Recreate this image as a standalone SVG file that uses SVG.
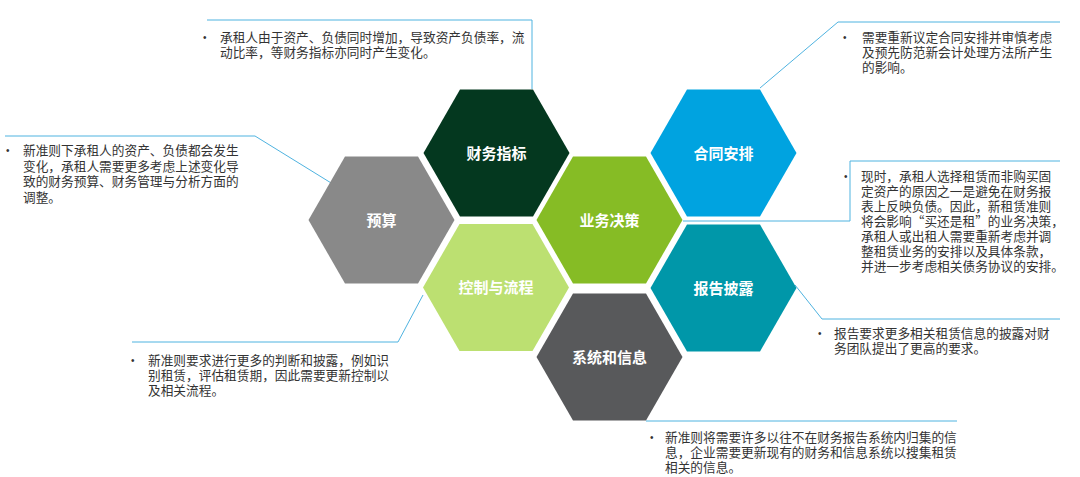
<svg xmlns="http://www.w3.org/2000/svg" width="1080" height="477" viewBox="0 0 1080 477">
<style>
.lbl{font-family:"Noto Sans CJK SC","Noto Sans",sans-serif;font-size:15px;font-weight:bold;fill:#ffffff;text-anchor:middle}
.t{font-family:"Noto Sans CJK SC","Noto Sans",sans-serif;font-size:12.7px;fill:#333333}
.b{font-family:"Liberation Sans",sans-serif;font-size:10px;fill:#333333}
.c{fill:none;stroke:#4FB3E0;stroke-width:1}
</style>
<defs>
<polygon id="hex" points="-73,0 -36.5,-63.5 36.5,-63.5 73,0 36.5,63.5 -36.5,63.5"/>
</defs>
<rect width="1080" height="477" fill="#ffffff"/>
<g id="connectors">
<polyline class="c" points="207,20 532,20 532,89"/>
<polyline class="c" points="760,88 838,22 1060,22"/>
<polyline class="c" points="5,136 255,136 336,186"/>
<polyline class="c" points="683,221 850,221 850,161 1060,161"/>
<polyline class="c" points="795,285 822,319 1060,319"/>
<polyline class="c" points="423,295 398,342 132,342"/>
<polyline class="c" points="646,421 957,421"/>
</g>
<g id="node-yusuan" transform="translate(381.5,220)">
<use href="#hex" fill="#898989"/>
<text class="lbl" y="5.5">预算</text>
</g>
<g id="node-caiwuzhibiao" transform="translate(496.5,153)">
<use href="#hex" fill="#04381F"/>
<text class="lbl" y="5.5">财务指标</text>
</g>
<g id="node-yewujuece" transform="translate(609.5,220)">
<use href="#hex" fill="#86BC25"/>
<text class="lbl" y="5.5">业务决策</text>
</g>
<g id="node-hetonganpai" transform="translate(723.5,153)">
<use href="#hex" fill="#00A3E0"/>
<text class="lbl" y="5.5">合同安排</text>
</g>
<g id="node-kongzhi" transform="translate(496,287.5)">
<use href="#hex" fill="#BCE071"/>
<text class="lbl" y="5.5">控制与流程</text>
</g>
<g id="node-baogao" transform="translate(723.5,288)">
<use href="#hex" fill="#0097A9"/>
<text class="lbl" y="5.5">报告披露</text>
</g>
<g id="node-xitong" transform="translate(609.5,357)">
<use href="#hex" fill="#58595B"/>
<text class="lbl" y="5.5">系统和信息</text>
</g>
<g id="note-top">
<text class="b" x="203" y="40.5">•</text>
<text class="t"><tspan x="220" y="41.5">承租人由于资产、负债同时增加，导致资产负债率，流</tspan><tspan x="220" y="56.5">动比率，等财务指标亦同时产生变化。</tspan></text>
</g>
<g id="note-topright">
<text class="b" x="843" y="40.5">•</text>
<text class="t"><tspan x="862" y="41.5">需要重新议定合同安排并审慎考虑</tspan><tspan x="862" y="56.5">及预先防范新会计处理方法所产生</tspan><tspan x="862" y="71.5">的影响。</tspan></text>
</g>
<g id="note-left">
<text class="b" x="6" y="154">•</text>
<text class="t"><tspan x="23" y="155">新准则下承租人的资产、负债都会发生</tspan><tspan x="23" y="170.5">变化，承租人需要更多考虑上述变化导</tspan><tspan x="23" y="186">致的财务预算、财务管理与分析方面的</tspan><tspan x="23" y="201.5">调整。</tspan></text>
</g>
<g id="note-right">
<text class="b" x="844" y="180">•</text>
<text class="t"><tspan x="861" y="181">现时，承租人选择租赁而非购买固</tspan><tspan x="861" y="196">定资产的原因之一是避免在财务报</tspan><tspan x="861" y="211">表上反映负债。因此，新租赁准则</tspan><tspan x="861" y="226">将会影响“买还是租”的业务决策，</tspan><tspan x="861" y="241">承租人或出租人需要重新考虑并调</tspan><tspan x="861" y="256">整租赁业务的安排以及具体条款，</tspan><tspan x="861" y="271">并进一步考虑相关债务协议的安排。</tspan></text>
</g>
<g id="note-bottomleft">
<text class="b" x="131" y="363.5">•</text>
<text class="t"><tspan x="148" y="364.5">新准则要求进行更多的判断和披露，例如识</tspan><tspan x="148" y="379.5">别租赁，评估租赁期，因此需要更新控制以</tspan><tspan x="148" y="394.5">及相关流程。</tspan></text>
</g>
<g id="note-report">
<text class="b" x="818" y="336.5">•</text>
<text class="t"><tspan x="834" y="337.5">报告要求更多相关租赁信息的披露对财</tspan><tspan x="834" y="352.5">务团队提出了更高的要求。</tspan></text>
</g>
<g id="note-system">
<text class="b" x="650" y="440.5">•</text>
<text class="t"><tspan x="665" y="441.5">新准则将需要许多以往不在财务报告系统内归集的信</tspan><tspan x="665" y="456.5">息，企业需要更新现有的财务和信息系统以搜集租赁</tspan><tspan x="665" y="471.5">相关的信息。</tspan></text>
</g>
</svg>
